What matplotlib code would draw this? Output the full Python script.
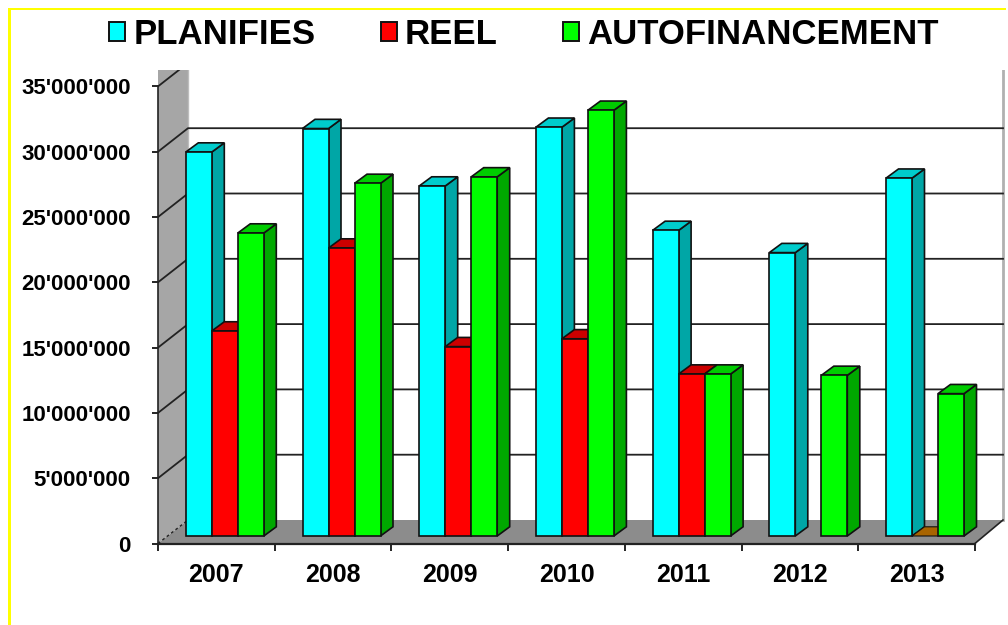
import matplotlib
matplotlib.use("Agg")
import matplotlib.pyplot as plt
from matplotlib.patches import Polygon, Rectangle
from matplotlib.ticker import FuncFormatter

plt.rcParams['font.family'] = ['Liberation Sans', 'DejaVu Sans']
plt.rcParams['font.weight'] = 'bold'

years = ['2007', '2008', '2009', '2010', '2011', '2012', '2013']
planifies = [29400000, 31200000, 26800000, 31300000, 23400000, 21700000, 27400000]
reel = [15700000, 22050000, 14500000, 15100000, 12400000, None, 0]
autofin = [23200000, 27000000, 27500000, 32600000, 12400000, 12300000, 10900000]
y_ticks = [0, 5000000, 10000000, 15000000, 20000000, 25000000, 30000000, 35000000]

W, H = 1008, 625
PX_X = 116.7  # pixels for one category
PX_Y = 65.3 / 5000000  # pixels for one unit of value


def dx(px):
    return px / PX_X


def dy(px):
    return px / PX_Y


def fmt(v, pos=None):
    return f"{int(v):,}".replace(",", "'")


fig = plt.figure(figsize=(W / 100, H / 100), dpi=100)
ax = fig.add_axes([158 / W, (H - 543.5) / H, (1005 - 158) / W, (543.5 - 70) / H])
ax.set_xlim(0, dx(1005 - 158))
ax.set_ylim(0, dy(543.5 - 70))

# walls and floor
wx, wy = dx(30), dy(23.5)
xback = dx(1003 - 158)
ax.add_patch(Polygon([(0, 0), (wx, wy), (wx, dy(500)), (0, dy(500))], fc='#a6a6a6', ec='none', zorder=1))
ax.add_patch(Polygon([(0, 0), (wx, wy), (xback, wy), (7, 0)], fc='#8c8c8c', ec='none', zorder=1))
ax.plot([xback, xback], [wy, dy(500)], color='#b0b0b0', lw=2, zorder=1)
ax.plot([wx, wx], [wy, dy(500)], color='#bdbdbd', lw=1, zorder=1)
ax.plot([7, xback], [0, wy], color='#222222', lw=1.2, zorder=1, clip_on=False)
ax.plot([0, wx], [0, wy], color='#222222', lw=1, ls=(0, (2, 2)), zorder=2)

for v in y_ticks[1:]:
    ax.plot([0, wx, xback], [v, v + wy, v + wy], color='#222222', lw=1.3, zorder=2)

# bars, drawn left to right so each front covers the side of the previous one
bar_w = dx(26)
start = dx(27.8)
base = dy(7.5)
ddx, ddy = dx(12.5), dy(9.2)
series = [
    ('PLANIFIES', planifies, '#00ffff', '#00a6a6', '#00cccc'),
    ('REEL', reel, '#ff0000', '#a80000', '#cc0000'),
    ('AUTOFINANCEMENT', autofin, '#00ff00', '#00a800', '#00cc00'),
]
edge = '#111111'
z = 3
handles = []
for i in range(len(years)):
    for s, (name, vals, front, side, top) in enumerate(series):
        v = vals[i]
        if v is None:
            continue
        x0 = i + start + s * bar_w
        x1 = x0 + bar_w
        if v == 0:
            # empty value still shows as a brown floor tile
            ax.add_patch(Polygon([(x0, base), (x1, base), (x1 + ddx, base + ddy), (x0 + ddx, base + ddy)],
                                 fc='#a86400', ec=edge, lw=0.8, zorder=z))
            z += 1
            continue
        ax.add_patch(Polygon([(x1, base), (x1 + ddx, base + ddy), (x1 + ddx, base + v + ddy), (x1, base + v)],
                             fc=side, ec=edge, lw=1.2, zorder=z))
        ax.add_patch(Polygon([(x0, base + v), (x1, base + v), (x1 + ddx, base + v + ddy), (x0 + ddx, base + v + ddy)],
                             fc=top, ec=edge, lw=1.2, zorder=z))
        ax.bar(x0, v, width=bar_w, bottom=base, align='edge', color=front, edgecolor=edge, lw=1.2, zorder=z + 1)
        z += 2

for name, vals, front, side, top in series:
    handles.append(Rectangle((0, 0), 1, 1, fc=front, ec='#111111', lw=1.4, label=name))

# axes
for sp in ['top', 'right']:
    ax.spines[sp].set_visible(False)
ax.spines['left'].set_bounds(0, 35000000)
ax.spines['bottom'].set_bounds(0, 7)
ax.spines['left'].set_linewidth(1.2)
ax.spines['bottom'].set_linewidth(1.6)
ax.spines['left'].set_color('#222222')
ax.spines['bottom'].set_color('#222222')

ax.set_yticks(y_ticks)
ax.yaxis.set_major_formatter(FuncFormatter(fmt))
ax.tick_params(axis='y', length=4.5, width=1.2, labelsize=16, pad=15)
ax.set_xticks(range(8))
ax.set_xticklabels([])
ax.tick_params(axis='x', which='major', length=5, width=1.2)
ax.set_xticks([i + 0.5 for i in range(7)], minor=True)
ax.set_xticklabels(years, minor=True, fontsize=18)
ax.tick_params(axis='x', which='minor', length=0, pad=14)

fig.legend(handles=handles, ncol=3, loc='upper left', bbox_to_anchor=(102 / W, 1 - 11 / H),
           frameon=False, fontsize=25, handlelength=0.47, handleheight=0.47,
           handletextpad=0.23, columnspacing=1.88, borderpad=0.2, borderaxespad=0)

# yellow frame
fig.add_artist(Rectangle((8 / W, 0), 3 / W, (H - 8) / H, fc='#ffff00', ec='none', transform=fig.transFigure))
fig.add_artist(Rectangle((8 / W, 1 - 9.5 / H), 998 / W, 1.5 / H, fc='#ffff00', ec='none', transform=fig.transFigure))

fig.savefig('out.png', dpi=100, facecolor='white')
